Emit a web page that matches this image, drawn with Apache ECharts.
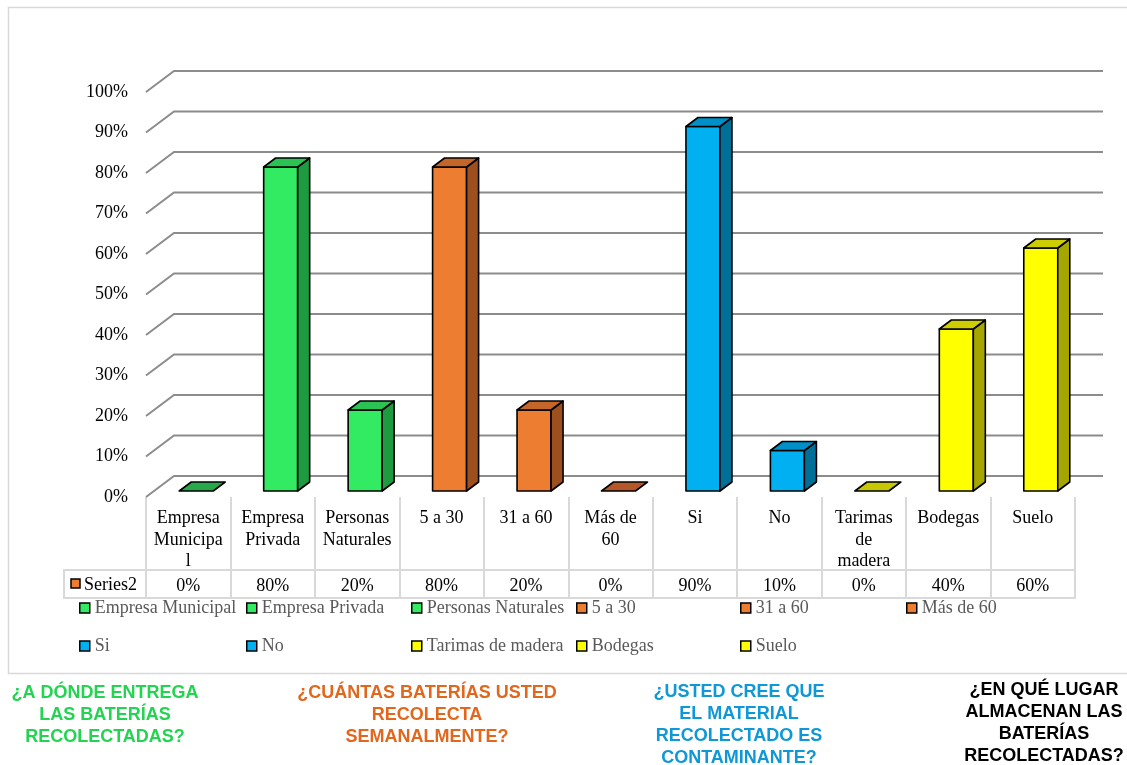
<!DOCTYPE html>
<html><head><meta charset="utf-8">
<script src="https://cdn.jsdelivr.net/npm/echarts@6/dist/echarts.min.js"></script>
<style>html,body{margin:0;padding:0;background:#fff}#c{width:1127px;height:765px}</style>
</head><body><div id="c"></div>
<script>
// ---- data ----
const categories = ['Empresa Municipal','Empresa Privada','Personas Naturales','5 a 30','31 a 60','Más de 60','Si','No','Tarimas de madera','Bodegas','Suelo'];
const categoryLabels = ['Empresa\nMunicipa\nl','Empresa\nPrivada','Personas\nNaturales','5 a 30','31 a 60','Más de\n60','Si','No','Tarimas\nde\nmadera','Bodegas','Suelo'];
const values = [0, 0.8, 0.2, 0.8, 0.2, 0, 0.9, 0.1, 0, 0.4, 0.6];
const questionOf = [0,0,0,1,1,1,2,2,3,3,3];
const yTicks = [0,0.1,0.2,0.3,0.4,0.5,0.6,0.7,0.8,0.9,1];
const yTickLabels = ['0%','10%','20%','30%','40%','50%','60%','70%','80%','90%','100%'];
const tableSeriesName = 'Series2';
const questions = [
  '¿A DÓNDE ENTREGA\nLAS BATERÍAS\nRECOLECTADAS?',
  '¿CUÁNTAS BATERÍAS USTED\nRECOLECTA\nSEMANALMENTE?',
  '¿USTED CREE QUE\nEL MATERIAL\nRECOLECTADO ES\nCONTAMINANTE?',
  '¿EN QUÉ LUGAR\nALMACENAN LAS\nBATERÍAS\nRECOLECTADAS?'
];

// ---- styles ----
const palette = [
  {front:'#33EB63', side:'#1E9A40', top:'#2BC454', flat:'#27A84A'},
  {front:'#ED7D31', side:'#9E4F1E', top:'#C4652A', flat:'#B4582A'},
  {front:'#00B0F0', side:'#006F98', top:'#008FC6', flat:'#008FC6'},
  {front:'#FFFF00', side:'#A6A600', top:'#CDCD00', flat:'#C8C800'}
];
const questionColors = ['#22D450','#E2661C','#0E98D5','#000000'];
const questionX = [105, 427, 739, 1044];
const questionY = [682, 682, 681, 679];
const SERIF = 'Liberation Serif';
const WALL_DX = 28, WALL_DY = 21;
const BAR_OX = 8, BAR_OY = 6, BAR_DX = 12, BAR_DY = 9, BAR_W = 34;
const legendCols = [79, 246, 411, 576, 740, 906];
const legendRows = [599, 637];

function pct(v){ return Math.round(v*100) + '%'; }

function barRenderer(col){
  return function(params, api){
    const i = api.value(0), v = api.value(1);
    const base = api.coord([i, 0]), top = api.coord([i, v]);
    const cx = base[0] + BAR_OX;
    const x0 = cx - BAR_W/2, x1 = cx + BAR_W/2;
    const yb = base[1] - BAR_OY, yt = top[1] - BAR_OY;
    const st = {stroke:'#000', lineWidth:1.6, lineJoin:'round'};
    const children = [];
    if (yb - yt > 0.5) {
      children.push({type:'rect', shape:{x:x0, y:yt, width:BAR_W, height:yb-yt}, style:Object.assign({fill:col.front}, st)});
      children.push({type:'polygon', shape:{points:[[x1,yb],[x1+BAR_DX,yb-BAR_DY],[x1+BAR_DX,yt-BAR_DY],[x1,yt]]}, style:Object.assign({fill:col.side}, st)});
      children.push({type:'polygon', shape:{points:[[x0,yt],[x1,yt],[x1+BAR_DX,yt-BAR_DY],[x0+BAR_DX,yt-BAR_DY]]}, style:Object.assign({fill:col.top}, st)});
    } else {
      children.push({type:'polygon', shape:{points:[[x0,yb],[x1,yb],[x1+BAR_DX,yb-BAR_DY],[x0+BAR_DX,yb-BAR_DY]]}, style:Object.assign({fill:col.flat}, st)});
    }
    return {type:'group', children};
  };
}

const series = [{
  type:'custom', name:'grid', silent:true, z:1, clip:false,
  data: yTicks.map(v => [0, v]), encode:{x:0, y:1},
  renderItem: function(params, api){
    const cs = params.coordSys;
    const y = api.coord([0, api.value(1)])[1];
    return {type:'polyline', shape:{points:[[cs.x, y],[cs.x+WALL_DX, y-WALL_DY],[cs.x+cs.width+WALL_DX, y-WALL_DY]]},
      style:{stroke:'#8C8C8C', lineWidth:2, fill:null}};
  }
}];
categories.forEach((name, i) => {
  const col = palette[questionOf[i]];
  series.push({
    type:'custom', name:name, z:3, clip:false,
    data:[[i, values[i]]], encode:{x:0, y:1},
    itemStyle:{color:col.front, borderColor:'#000', borderWidth:1.5},
    renderItem: barRenderer(col)
  });
});

const legends = categories.map((name, i) => ({
  data:[name], selectedMode:false,
  left: legendCols[i < 6 ? i : i - 6], top: legendRows[i < 6 ? 0 : 1],
  padding:0, itemWidth:10, itemHeight:10, icon:'rect',
  itemStyle:{borderColor:'#000', borderWidth:1.5},
  textStyle:{fontFamily:SERIF, fontSize:18, color:'#595959'}
}));

const tableLine = {color:'#D9D9D9', width:2};

const graphic = [
  {type:'rect', shape:{x:8.5, y:7.5, width:1140, height:666}, style:{fill:null, stroke:'#D9D9D9', lineWidth:1.5}, z:-10},
  {type:'rect', shape:{x:64, y:570, width:82, height:28}, style:{fill:null, stroke:'#D9D9D9', lineWidth:2}},
  {type:'rect', shape:{x:71, y:579, width:9, height:9}, style:{fill:palette[1].front, stroke:'#000', lineWidth:1.5}},
  {type:'text', x:84, y:585, style:{text:tableSeriesName, fontFamily:SERIF, fontSize:18, fill:'#000', align:'left', verticalAlign:'middle'}}
];
questions.forEach((q, i) => {
  graphic.push({type:'text', x:questionX[i], y:questionY[i], style:{text:q, fontFamily:'Liberation Sans', fontWeight:'bold', fontSize:18, lineHeight:22, fill:questionColors[i], align:'center', verticalAlign:'top'}});
});

const option = {
  backgroundColor:'#fff',
  animation:false,
  grid:{left:146, right:52, top:92, bottom:268, containLabel:false, outerBoundsMode:'none'},
  xAxis:[
    {type:'category', data:categories, position:'bottom',
      axisLine:{show:false}, splitLine:{show:false},
      axisTick:{show:true, length:101, interval:0, lineStyle:tableLine},
      axisLabel:{interval:0, formatter:(v, idx) => categoryLabels[idx], fontFamily:SERIF, fontSize:18, lineHeight:21.5, color:'#000', margin:11, hideOverlap:false}},
    {type:'category', data:categories, position:'bottom', offset:73,
      axisLine:{show:true, lineStyle:tableLine}, axisTick:{show:false}, splitLine:{show:false},
      axisLabel:{interval:0, formatter:(v, idx) => pct(values[idx]), fontFamily:SERIF, fontSize:18, lineHeight:18, color:'#000', margin:7}},
    {type:'category', data:categories, position:'bottom', offset:101,
      axisLine:{show:true, lineStyle:tableLine}, axisTick:{show:false}, axisLabel:{show:false}, splitLine:{show:false}}
  ],
  yAxis:{type:'value', min:0, max:1, interval:0.1,
    axisLine:{show:false}, axisTick:{show:false}, splitLine:{show:false},
    axisLabel:{formatter:v => yTickLabels[Math.round(v*10)], fontFamily:SERIF, fontSize:18, color:'#000', margin:18, padding:[4,0,0,0]}},
  legend: legends,
  series: series,
  graphic: graphic
};
const chart = echarts.init(document.getElementById('c'), null, {renderer:'canvas'});
chart.setOption(option);
</script></body></html>
